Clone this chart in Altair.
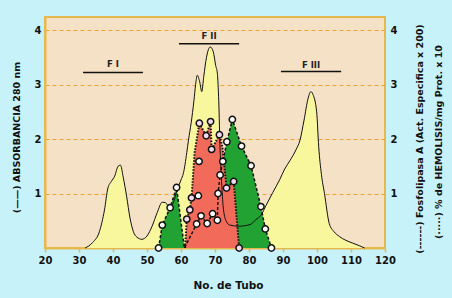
import altair as alt
import pandas as pd

# ---------------- data ----------------
abs_x = [31.8, 34.0, 36.0, 37.5, 38.5, 39.5, 40.5, 41.5, 42.2, 43.0, 44.0, 45.0,
         46.0, 47.0, 48.5, 50.0, 51.5, 53.0, 54.5, 55.5, 56.5, 57.5, 58.8, 60.0,
         60.7, 61.7, 62.2, 63.0, 63.8, 64.3, 64.8, 65.5, 66.1, 66.7, 67.5, 68.6,
         69.5, 70.2, 70.7, 71.1, 71.5, 72.0, 72.5, 73.4, 74.4, 77.0, 80.3, 82.0,
         83.5, 85.0, 87.0, 89.0, 90.5, 92.0, 93.8, 95.0, 96.2, 97.4, 98.2, 98.8,
         99.9, 100.5, 101.3, 102.2, 103.6, 105.0, 106.6, 108.5, 110.5, 112.5, 114.0]
abs_y = [0.00, 0.10, 0.30, 0.70, 1.10, 1.22, 1.32, 1.50, 1.52, 1.30, 0.95, 0.55,
         0.30, 0.20, 0.16, 0.22, 0.40, 0.65, 0.84, 0.83, 0.75, 0.80, 1.05, 1.25,
         1.37, 1.75, 1.98, 2.30, 2.70, 3.00, 3.17, 3.05, 2.87, 3.15, 3.50, 3.69,
         3.60, 3.35, 3.20, 2.70, 1.80, 1.15, 0.70, 0.48, 0.42, 0.40, 0.43, 0.52,
         0.60, 0.78, 1.02, 1.25, 1.45, 1.60, 1.80, 1.98, 2.35, 2.75, 2.87, 2.82,
         2.50, 1.86, 1.35, 1.00, 0.45, 0.30, 0.21, 0.14, 0.09, 0.04, 0.00]

# Fosfolipasa A (dashed line, green fill)
phos_x = [53.4, 54.5, 56.8, 58.7, 61.0, 64.6, 65.9, 67.7, 69.3, 70.7, 70.9,
          71.5, 72.3, 73.5, 75.1, 77.8, 80.6, 83.5, 84.8, 86.6]
phos_y = [0.00, 0.42, 0.74, 1.11, 0.00, 0.44, 0.59, 0.45, 0.63, 0.51, 1.00,
          1.34, 1.59, 1.95, 2.36, 1.87, 1.51, 0.76, 0.35, 0.00]
phos_mark = [True, True, True, True, False, True, True, True, True, True, True,
             True, True, True, True, True, True, True, True, True]

# % Hemolisis (dotted line, red fill)
hemo_x = [61.2, 61.7, 62.6, 63.1, 64.0, 65.4, 67.4, 68.7, 69.0, 71.3, 72.2,
          73.4, 75.5, 77.1]
hemo_y = [0.00, 0.53, 0.70, 0.92, 1.75, 2.29, 2.06, 2.32, 1.81, 2.08, 1.85,
          1.10, 1.22, 0.00]
hemo_mark = [False, True, True, True, False, True, True, True, True, True, False,
             True, True, True]
extra_x = [65.1, 65.3]
extra_y = [0.96, 1.59]

frac_names = ["F I", "F II", "F III"]
frac_start = [31.2, 59.4, 89.4]
frac_end = [48.8, 77.1, 107.1]
frac_rule_y = [3.22, 3.75, 3.24]
frac_label_y = [3.38, 3.89, 3.35]

x_ticks = [20, 30, 40, 50, 60, 70, 80, 90, 100, 110, 120]
y_ticks = [1, 2, 3, 4]

# ---------------- styling ----------------
FONT = "DejaVu Sans"
GOLD = "#E6B94E"
X_DOMAIN = [20, 120]
Y_DOMAIN = [0, 4.24]

abs_df = pd.DataFrame({"x": abs_x, "y": abs_y})
phos_df = pd.DataFrame({"x": phos_x, "y": phos_y, "m": phos_mark})
hemo_df = pd.DataFrame({"x": hemo_x, "y": hemo_y, "m": hemo_mark})
extra_df = pd.DataFrame({"x": extra_x, "y": extra_y})
frac_df = pd.DataFrame({"name": frac_names, "start": frac_start, "end": frac_end,
                        "ry": frac_rule_y, "ly": frac_label_y})
frac_df["mid"] = (frac_df["start"] + frac_df["end"]) / 2

xscale = alt.Scale(domain=X_DOMAIN, nice=False, zero=False)
xaxis = alt.Axis(values=x_ticks, title="No. de Tubo", grid=False, labelFlush=False,
                 labelFont=FONT, labelFontSize=10, labelFontWeight="bold",
                 labelColor="#111111", labelPadding=3, tickSize=4, tickColor=GOLD,
                 tickWidth=1.5, domainColor=GOLD, domainWidth=2,
                 titleFont=FONT, titleFontSize=10.5, titleFontWeight="bold",
                 titleColor="#111111", titleX=183, titleY=37,
                 titleBaseline="middle", titleAlign="center")


def X(field="x"):
    return alt.X(f"{field}:Q", scale=xscale, axis=xaxis)


def Y(field="y", axis=None):
    return alt.Y(f"{field}:Q", scale=alt.Scale(domain=Y_DOMAIN, nice=False, zero=True),
                 axis=axis)


left_axis = alt.Axis(values=y_ticks, orient="left", grid=True, gridColor="#F0A030",
                     gridDash=[4, 3], gridWidth=1.2, ticks=False, labelPadding=4,
                     labelFlush=False,
                     labelFont=FONT, labelFontSize=10, labelFontWeight="bold",
                     labelColor="#111111", domainColor=GOLD, domainWidth=2,
                     title="(——) ABSORBANCIA 280 nm", titleFont=FONT,
                     titleFontSize=9.5, titleFontWeight="bold", titleColor="#111111",
                     titleAngle=270, titleX=-29, titleY=120, titleAlign="center",
                     titleBaseline="middle")
right_axis = alt.Axis(values=y_ticks, orient="right", grid=False, ticks=False,
                      domain=False, labelPadding=5, labelFlush=False, labelFont=FONT,
                      labelFontSize=10, labelFontWeight="bold", labelColor="#111111",
                      title=None)

abs_area = alt.Chart(abs_df).mark_area(color="#F8F79E", interpolate="monotone").encode(
    x=X(), y=Y(axis=left_axis))
green_area = alt.Chart(phos_df).mark_area(color="#22A232").encode(x=X(), y=Y())
red_area = alt.Chart(hemo_df).mark_area(color="#F26A5A").encode(x=X(), y=Y())
abs_line = alt.Chart(abs_df).mark_line(color="#111111", strokeWidth=1,
                                       interpolate="monotone").encode(x=X(), y=Y())
phos_line = alt.Chart(phos_df).mark_line(color="#111111", strokeWidth=1.5,
                                         strokeDash=[3, 2]).encode(
    x=X(), y=Y(axis=right_axis))
hemo_line = alt.Chart(hemo_df).mark_line(color="#111111", strokeWidth=2,
                                         strokeDash=[1.5, 1.5]).encode(x=X(), y=Y())
phos_pts = alt.Chart(phos_df).transform_filter("datum.m").mark_point(
    shape="circle", filled=True, fill="#FFFFFF", stroke="#111111", strokeWidth=1.5,
    size=40, opacity=1).encode(x=X(), y=Y())
hemo_pts = alt.Chart(hemo_df).transform_filter("datum.m").mark_point(
    shape="circle", filled=True, fill="#F6DAF0", stroke="#111111", strokeWidth=1.5,
    size=40, opacity=1).encode(x=X(), y=Y())
extra_pts = alt.Chart(extra_df).mark_point(
    shape="circle", filled=True, fill="#FFFFFF", stroke="#111111", strokeWidth=1.5,
    size=40, opacity=1).encode(x=X(), y=Y())

frac_rules = alt.Chart(frac_df).mark_rule(color="#111111", strokeWidth=1.6).encode(
    x=X("start"), x2="end:Q", y=Y("ry"))
frac_text = alt.Chart(frac_df).mark_text(font=FONT, fontSize=8.5, fontWeight="bold",
                                         color="#222222", baseline="middle").encode(
    x=X("mid"), y=Y("ly"), text="name:N")

rt1 = alt.Chart(pd.DataFrame({"t": ["(------) Fosfolipasa A (Act. Especifica x 200)"]})
                ).mark_text(font=FONT, fontSize=9.5, fontWeight="bold", color="#111111",
                            angle=270, align="center", baseline="middle").encode(
    text="t:N", x=alt.value(375), y=alt.value(122))
rt2 = alt.Chart(pd.DataFrame({"t": ["(·····) % de HEMOLISIS/mg Prot. x 10"]})
                ).mark_text(font=FONT, fontSize=9.5, fontWeight="bold", color="#111111",
                            angle=270, align="center", baseline="middle").encode(
    text="t:N", x=alt.value(394), y=alt.value(125))

chart = alt.layer(
    abs_area, green_area, red_area, abs_line, phos_line, hemo_line,
    phos_pts, hemo_pts, extra_pts, frac_rules, frac_text, rt1, rt2
).resolve_scale(y="independent").properties(
    width=340, height=231,
    autosize=alt.AutoSizeParams(type="none"),
    padding={"left": 45, "top": 17, "right": 67, "bottom": 50},
    background="#C8F2FA",
).configure_view(fill="#F5E2C6", stroke=GOLD, strokeWidth=2)

chart.save("out.html", embed_options={"renderer": "svg", "actions": False})
